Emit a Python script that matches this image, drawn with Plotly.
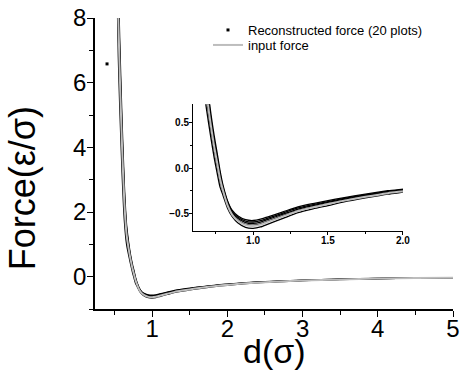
import plotly.graph_objects as go

# distance d (sigma)
d = [0.53, 0.55, 0.57, 0.60, 0.63, 0.66, 0.70, 0.72, 0.74, 0.76, 0.78, 0.80, 0.83, 0.86, 0.90,
     0.95, 1.00, 1.05, 1.10, 1.20, 1.30, 1.40, 1.50, 1.60, 1.75, 1.90, 2.00, 2.25, 2.50, 3.00,
     3.50, 4.00, 4.50, 5.00]

# input force (epsilon/sigma)
input_force = [10.5, 8.0, 6.2, 4.0, 2.3, 1.3, 0.69, 0.45, 0.24, 0.06, -0.12, -0.25, -0.41, -0.51,
               -0.58, -0.625, -0.635, -0.62, -0.59, -0.53, -0.47, -0.43, -0.395, -0.36, -0.315,
               -0.275, -0.255, -0.205, -0.17, -0.12, -0.085, -0.06, -0.045, -0.03]

# reconstructed forces (distinct curves visible in the band)
recon_1 = [12.0, 9.2, 7.2, 4.8, 2.85, 1.6, 0.85, 0.58, 0.36, 0.17, -0.03, -0.19, -0.36, -0.462,
           -0.525, -0.566, -0.575, -0.561, -0.534, -0.480, -0.425, -0.389, -0.357, -0.326, -0.285,
           -0.249, -0.231, -0.186, -0.154, -0.109, -0.077, -0.054, -0.041, -0.027]
recon_2 = [11.5, 8.8, 6.8, 4.5, 2.65, 1.5, 0.79, 0.53, 0.31, 0.13, -0.06, -0.21, -0.37, -0.474,
           -0.539, -0.581, -0.591, -0.577, -0.549, -0.493, -0.437, -0.400, -0.367, -0.335, -0.293,
           -0.256, -0.237, -0.191, -0.158, -0.112, -0.079, -0.056, -0.042, -0.028]
recon_3 = [11.0, 8.4, 6.5, 4.25, 2.48, 1.4, 0.74, 0.49, 0.275, 0.095, -0.09, -0.225, -0.385, -0.487,
           -0.554, -0.597, -0.606, -0.592, -0.563, -0.506, -0.449, -0.411, -0.377, -0.344, -0.301,
           -0.263, -0.244, -0.196, -0.162, -0.115, -0.081, -0.057, -0.043, -0.029]
recon_4 = [10.0, 7.6, 5.9, 3.8, 2.15, 1.2, 0.63, 0.40, 0.20, 0.02, -0.15, -0.26, -0.41, -0.502,
           -0.571, -0.616, -0.625, -0.611, -0.581, -0.522, -0.463, -0.424, -0.389, -0.355, -0.310,
           -0.271, -0.251, -0.202, -0.167, -0.118, -0.084, -0.059, -0.044, -0.030]
recon_5 = [9.3, 6.8, 5.2, 3.2, 1.75, 1.0, 0.53, 0.32, 0.12, -0.05, -0.21, -0.30, -0.44, -0.53,
           -0.603, -0.650, -0.660, -0.645, -0.614, -0.551, -0.489, -0.447, -0.411, -0.374, -0.328,
           -0.286, -0.265, -0.213, -0.177, -0.125, -0.088, -0.062, -0.047, -0.031]
recon_curves = [recon_1, recon_2, recon_3, recon_4, recon_5]

# stray point of the reconstructed series (also carries the legend entry)
stray_x = [0.40]
stray_y = [6.58]

FONT = "Arial, Liberation Sans, sans-serif"
GRAY = "#bdbdbd"

fig = go.Figure()

for xa, ya in (("x", "y"), ("x2", "y2")):
    for rc in recon_curves:
        fig.add_trace(go.Scatter(x=d, y=rc, mode="lines", xaxis=xa, yaxis=ya,
                                 line=dict(color="black", width=1.3, shape="spline", smoothing=0.6),
                                 showlegend=False, hoverinfo="skip"))
    fig.add_trace(go.Scatter(x=d, y=input_force, mode="lines", xaxis=xa, yaxis=ya,
                             line=dict(color=GRAY, width=2, shape="spline", smoothing=0.6),
                             showlegend=False, hoverinfo="skip"))

fig.add_trace(go.Scatter(x=stray_x, y=stray_y, mode="markers", name="Reconstructed force (20 plots)",
                         marker=dict(symbol="square", size=3, color="black"), legend="legend"))
fig.add_trace(go.Scatter(x=[None], y=[None], mode="lines", name="input force",
                         line=dict(color=GRAY, width=2), legend="legend2"))

axis_common = dict(showgrid=False, zeroline=False, showline=True, linecolor="black",
                   ticks="outside", tickcolor="black", mirror=False)

legend_common = dict(xanchor="left", yanchor="top", bgcolor="rgba(0,0,0,0)",
                     font=dict(size=13, family=FONT), itemwidth=30)

fig.update_layout(
    width=466, height=378,
    margin=dict(l=95, r=13, t=18, b=69, autoexpand=False),
    paper_bgcolor="white", plot_bgcolor="white",
    font=dict(family=FONT, color="black"),
    xaxis=dict(range=[0.24, 5.0], dtick=1, tick0=0, linewidth=1.5, ticklen=6, tickwidth=1.2,
               tickfont=dict(size=24, family=FONT), ticklabelstandoff=-9,
               minor=dict(dtick=0.5, tick0=0, ticklen=4, ticks="outside", tickcolor="black", tickwidth=1),
               **axis_common),
    yaxis=dict(range=[-1, 8], dtick=2, tick0=0, linewidth=1.5, ticklen=6, tickwidth=1.2,
               tickfont=dict(size=24, family=FONT), ticklabelstandoff=-4,
               minor=dict(dtick=1, tick0=0, ticklen=4, ticks="outside", tickcolor="black", tickwidth=1),
               **axis_common),
    xaxis2=dict(domain=[0.274, 0.860], anchor="y2", range=[0.6, 2.0], dtick=0.5, tick0=0,
                tickformat=".1f", linewidth=1.2, ticklen=3, tickwidth=1, ticklabelstandoff=-3,
                tickfont=dict(size=10, family=FONT, weight="bold"),
                minor=dict(dtick=0.25, tick0=0, ticklen=2, ticks="outside", tickcolor="black"),
                **axis_common),
    yaxis2=dict(domain=[0.268, 0.704], anchor="x2", range=[-0.69, 0.70], dtick=0.5, tick0=0,
                tickformat=".1f", linewidth=1.2, ticklen=3, tickwidth=1, ticklabelstandoff=-2,
                tickfont=dict(size=10, family=FONT, weight="bold"),
                minor=dict(dtick=0.25, tick0=0, ticklen=2, ticks="outside", tickcolor="black"),
                **axis_common),
    legend=dict(x=(208 - 95) / 358, y=(309 - 15) / 291, **legend_common),
    legend2=dict(x=(208 - 95) / 358, y=(309 - 30) / 291, **legend_common),
    showlegend=True,
    annotations=[
        dict(text="d(σ)", xref="paper", yref="paper", x=0.5, y=-0.145, showarrow=False,
             font=dict(size=34, family=FONT), xanchor="center", yanchor="middle"),
        dict(text="Force(ε/σ)", xref="paper", yref="paper", x=-0.20, y=0.416, showarrow=False,
             textangle=-90, font=dict(size=36, family=FONT), xanchor="center", yanchor="middle"),
    ],
)

fig.write_html("out.html")
